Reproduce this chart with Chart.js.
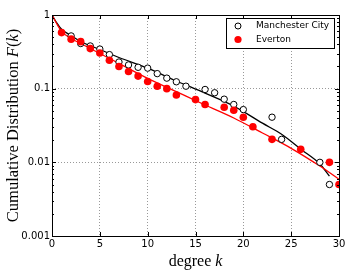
<!DOCTYPE html>
<html>
<head>
<meta charset="utf-8">
<script src="https://cdn.jsdelivr.net/npm/chart.js@4/dist/chart.umd.min.js"></script>
<style>
body{margin:0;background:#fff;}
</style>
</head>
<body>
<canvas id="cdf" width="354" height="280"></canvas>
<script>
// degree k and cumulative distribution F(k)
const cityK = [2,3,4,5,6,7,8,9,10,11,12,13,14,16,17,18,19,20,23,24,28,29];
const cityF = [0.52,0.41,0.38,0.345,0.29,0.23,0.21,0.195,0.19,0.16,0.139,0.124,0.108,0.0975,0.088,0.072,0.061,0.052,0.041,0.0205,0.01,0.005];

const evertonK = [1,2,3,4,5,6,7,8,9,10,11,12,13,15,16,18,19,20,21,23,26,29,30];
const evertonF = [0.577,0.47,0.435,0.35,0.305,0.243,0.2,0.171,0.148,0.125,0.108,0.1,0.082,0.071,0.061,0.056,0.051,0.041,0.0304,0.0205,0.015,0.01,0.005];

// fitted curves
const cityFitK = [0,0.5,1,2,3,5,7,10,13,16,19,22,24,26,28,29];
const cityFitF = [1,0.78,0.64,0.525,0.437,0.34,0.265,0.19,0.127,0.087,0.058,0.034,0.024,0.0151,0.0095,0.0065];
const evertonFitK = [0,0.5,1,2,3,5,7,10,13,16,19,22,25,28,30];
const evertonFitF = [1,0.76,0.6,0.48,0.41,0.30,0.22,0.138,0.091,0.060,0.040,0.025,0.0155,0.0089,0.0059];

const xTicks = [0,5,10,15,20,25,30];
const yTicks = [0.001,0.01,0.1,1];
const seriesNames = ["Manchester City","Everton"];

const toXY = (ks, fs) => ks.map((k,i) => ({x:k, y:fs[i]}));

const extras = {
  id:"extras",
  afterDraw(chart){
    const {ctx, chartArea:a, scales:{x,y}} = chart;
    ctx.save();
    ctx.strokeStyle = "#000";
    ctx.lineWidth = 1;
    ctx.beginPath();
    xTicks.forEach(v => {
      const px = Math.round(x.getPixelForValue(v)) + 0.5;
      ctx.moveTo(px, a.bottom); ctx.lineTo(px, a.bottom-4);
      ctx.moveTo(px, a.top); ctx.lineTo(px, a.top+4);
    });
    for (let d = 0.001; d < 1.5; d *= 10) {
      for (let m = 1; m <= 9; m++) {
        const v = d*m;
        if (v > 1.0001) break;
        const py = Math.round(y.getPixelForValue(v)) + 0.5;
        const len = m === 1 ? 4 : 2;
        ctx.moveTo(a.left, py); ctx.lineTo(a.left+len, py);
        ctx.moveTo(a.right, py); ctx.lineTo(a.right-len, py);
      }
    }
    ctx.stroke();
    ctx.strokeRect(Math.round(a.left)+0.5, Math.round(a.top)+0.5, Math.round(a.width), Math.round(a.height));

    // axis titles with italic symbols
    const drawParts = (parts, cx, cy) => {
      let w = 0;
      parts.forEach(p => { ctx.font = p[1]; w += ctx.measureText(p[0]).width; });
      let cur = cx - w/2;
      ctx.textBaseline = "middle";
      ctx.textAlign = "left";
      parts.forEach(p => { ctx.font = p[1]; ctx.fillText(p[0], cur, cy); cur += ctx.measureText(p[0]).width; });
    };
    ctx.fillStyle = "#000";
    const serif = "16px 'Liberation Serif'";
    const serifI = "italic 16px 'Liberation Serif'";
    drawParts([["degree ",serif],["k",serifI]], (a.left+a.right)/2, 262);
    const ys = "16.5px 'Liberation Serif'";
    const ysI = "italic 16.5px 'Liberation Serif'";
    ctx.save();
    ctx.translate(14, (a.top+a.bottom)/2);
    ctx.rotate(-Math.PI/2);
    drawParts([["Cumulative Distribution ",ys],["F",ysI],["(",ys],["k",ysI],[")",ys]], 0, 0);
    ctx.restore();

    // legend
    const lx = 226.5, ly = 18.5, lw = 108, lh = 30;
    ctx.fillStyle = "#fff";
    ctx.fillRect(lx, ly, lw, lh);
    ctx.strokeStyle = "#000";
    ctx.strokeRect(lx, ly, lw, lh);
    ctx.font = "9px 'DejaVu Sans'";
    ctx.textBaseline = "middle";
    ctx.textAlign = "left";
    ctx.beginPath();
    ctx.arc(238, 26, 3, 0, Math.PI*2);
    ctx.fillStyle = "#fff"; ctx.fill();
    ctx.strokeStyle = "#000"; ctx.stroke();
    ctx.beginPath();
    ctx.arc(238, 39.5, 3.6, 0, Math.PI*2);
    ctx.fillStyle = "#ff0000"; ctx.fill();
    ctx.fillStyle = "#000";
    ctx.fillText(seriesNames[0], 256, 26);
    ctx.fillText(seriesNames[1], 256, 39.5);
    ctx.restore();
  }
};

new Chart(document.getElementById("cdf"), {
  type:"scatter",
  data:{
    datasets:[
      {label:seriesNames[0], data:toXY(cityK,cityF), showLine:false, pointRadius:3.2, pointStyle:"circle",
       backgroundColor:"#fff", borderColor:"#000", borderWidth:1, order:1},
      {label:seriesNames[1], data:toXY(evertonK,evertonF), showLine:false, pointRadius:3.8,
       backgroundColor:"#ff0000", borderColor:"#ff0000", borderWidth:0, order:0},
      {label:"fit1", data:toXY(cityFitK,cityFitF), showLine:true, pointRadius:0, borderColor:"#000",
       borderWidth:1.3, cubicInterpolationMode:"monotone", order:3},
      {label:"fit2", data:toXY(evertonFitK,evertonFitF), showLine:true, pointRadius:0, borderColor:"#ff0000",
       borderWidth:1.3, cubicInterpolationMode:"monotone", order:2}
    ]
  },
  options:{
    responsive:false,
    animation:false,
    layout:{padding:{top:15,right:15,left:0,bottom:0}},
    plugins:{legend:{display:false}, tooltip:{enabled:false}},
    scales:{
      x:{
        type:"linear", min:0, max:30,
        afterBuildTicks: s => { s.ticks = xTicks.map(v => ({value:v})); },
        afterFit: s => { s.height = 44; },
        ticks:{color:"#000", font:{family:"DejaVu Sans", size:10}, padding:2, maxRotation:0},
        grid:{color:"#999", drawTicks:false},
        border:{display:false, dash:[1,2]}
      },
      y:{
        type:"logarithmic", min:0.001, max:1,
        afterBuildTicks: s => { s.ticks = yTicks.map(v => ({value:v})); },
        afterFit: s => { s.width = 52; },
        ticks:{color:"#000", font:{family:"DejaVu Sans", size:10}, padding:2,
               callback: v => String(v)},
        grid:{color:"#999", drawTicks:false},
        border:{display:false, dash:[1,2]}
      }
    }
  },
  plugins:[extras]
});
</script>
</body>
</html>
